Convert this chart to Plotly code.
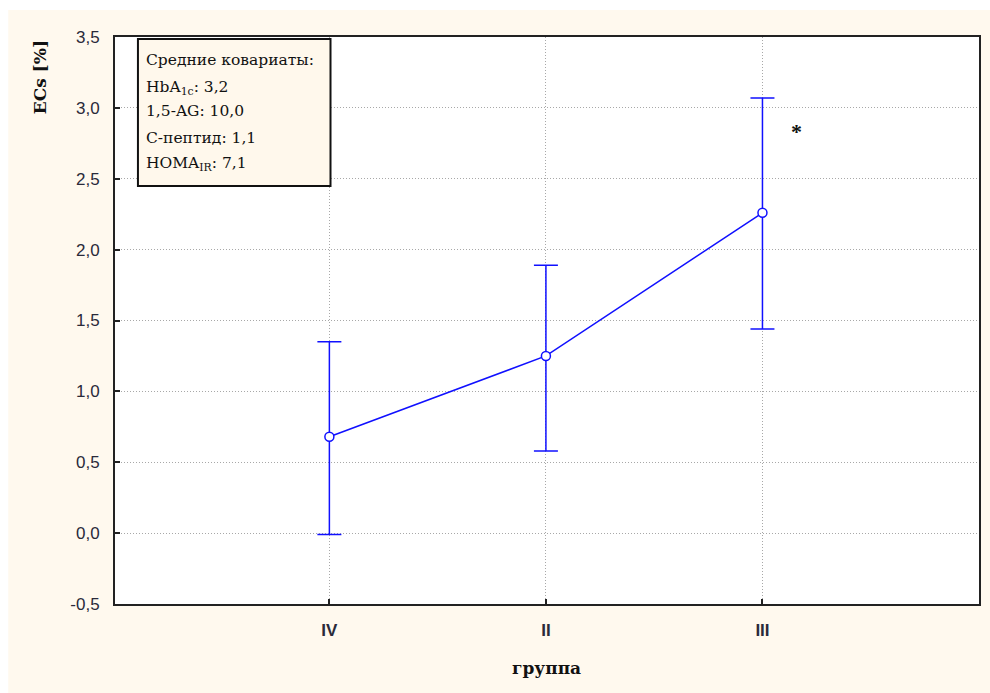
import plotly.graph_objects as go

groups = ["IV", "II", "III"]
means = [0.68, 1.25, 2.26]
upper = [1.35, 1.89, 3.07]
lower = [-0.01, 0.58, 1.44]
yticks = [-0.5, 0.0, 0.5, 1.0, 1.5, 2.0, 2.5, 3.0, 3.5]
ytick_text = ["-0,5", "0,0", "0,5", "1,0", "1,5", "2,0", "2,5", "3,0", "3,5"]
box_lines = ["Средние ковариаты:", "HbA<sub>1c</sub>: 3,2", "1,5-AG: 10,0",
             "C-пептид: 1,1", "HOMA<sub>IR</sub>: 7,1"]
y_title = "ECs [%]"
x_title = "группа"

W, H = 990, 693
L, R, T, B = 115, 9, 37, 89
PW, PH = W - L - R, H - T - B

def px(x):
    return (x - L) / PW

def py(y):
    return (H - B - y) / PH

cream = "#FFF9EE"
xs = list(range(len(groups)))
grid = "#A8A8A8"

fig = go.Figure()
fig.add_trace(go.Scatter(
    x=xs, y=means, mode="lines+markers",
    line=dict(color="#1010FF", width=1.5),
    marker=dict(symbol="circle", size=9, color="white",
                line=dict(color="#1010FF", width=1.5)),
    error_y=dict(type="data", symmetric=False,
                 array=[u - m for u, m in zip(upper, means)],
                 arrayminus=[m - l for m, l in zip(means, lower)],
                 color="#1010FF", thickness=1.5, width=12),
    showlegend=False,
))

fig.update_layout(
    width=W, height=H,
    margin=dict(l=L, r=R, t=T, b=B),
    paper_bgcolor=cream, plot_bgcolor="white",
    xaxis=dict(range=[-0.99, 3.0], tickvals=xs, ticktext=groups,
               showgrid=True, gridcolor=grid, griddash="1px,2px", gridwidth=1,
               showline=True, mirror=True, linecolor="#222222", linewidth=2,
               ticks="inside", ticklen=5, tickcolor="#222222", tickwidth=2,
               tickfont=dict(family="Liberation Sans", size=17, color="#2a2a3a",
                             weight="bold"),
               ticklabelstandoff=10, zeroline=False),
    yaxis=dict(range=[-0.5, 3.5], tickvals=yticks, ticktext=ytick_text,
               showgrid=True, gridcolor=grid, griddash="1px,2px", gridwidth=1,
               showline=True, mirror=True, linecolor="#222222", linewidth=2,
               ticks="inside", ticklen=5, tickcolor="#222222", tickwidth=2,
               tickfont=dict(family="Liberation Sans", size=17, color="#2a2a3a"),
               ticklabelstandoff=10, zeroline=False),
    shapes=[
        dict(type="rect", xref="paper", yref="paper", x0=px(-5), x1=px(8),
             y0=py(H + 5), y1=py(-5), fillcolor="white", line_width=0,
             layer="below"),
        dict(type="rect", xref="paper", yref="paper", x0=px(-5), x1=px(W + 5),
             y0=py(10), y1=py(-5), fillcolor="white", line_width=0,
             layer="below"),
        dict(type="rect", xref="paper", yref="paper", x0=px(138), x1=px(331),
             y0=py(186), y1=py(39), fillcolor="#FFF8EC",
             line=dict(color="#111111", width=2), layer="above"),
    ],
)

ann = []
line_y = [60, 88, 111, 138, 164]
for t, yy in zip(box_lines, line_y):
    ann.append(dict(x=px(144), y=py(yy), xref="paper", yref="paper",
                    text=t, showarrow=False, xanchor="left", yanchor="middle",
                    font=dict(family="DejaVu Serif", size=15.5, color="#111111")))
ann.append(dict(x=px(40), y=py(38), xref="paper", yref="paper", text=y_title,
                textangle=-90, showarrow=False, xanchor="center", yanchor="top",
                font=dict(family="DejaVu Serif", size=17, color="#111111",
                          weight="bold")))
ann.append(dict(x=px(547), y=py(668), xref="paper", yref="paper", text=x_title,
                showarrow=False, xanchor="center", yanchor="middle",
                font=dict(family="DejaVu Serif", size=17, color="#111111",
                          weight="bold")))
ann.append(dict(x=2.157, y=2.83, xref="x", yref="y", text="*",
                showarrow=False, xanchor="center", yanchor="middle",
                font=dict(family="Liberation Serif", size=22, color="#111111",
                          weight="bold")))
fig.update_layout(annotations=ann)

fig.write_html("out.html")
